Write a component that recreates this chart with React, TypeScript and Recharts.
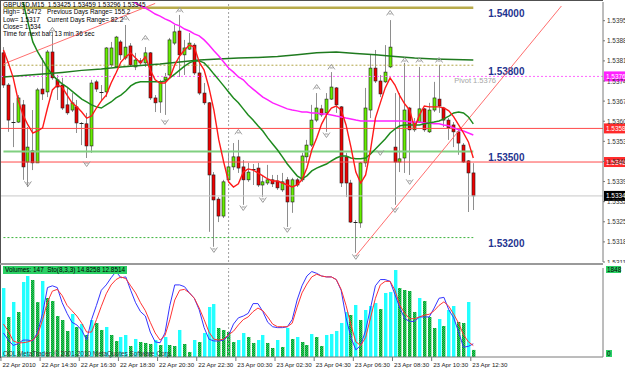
import React from "react";
import { ComposedChart, Bar, Line, XAxis, YAxis, ReferenceLine } from "recharts";

const FONT = "'Liberation Sans', Arial, sans-serif";

// GBPUSD M15, 22 Apr 12:30 .. 23 Apr 12:30
const opens = [
  1.53843, 1.53731, 1.53602, 1.53602, 1.53662, 1.53463, 1.53502, 1.5346, 1.53717, 1.53707,
  1.53846, 1.53749, 1.53731, 1.53662, 1.53644, 1.53655, 1.53599, 1.53596, 1.53519, 1.53742,
  1.53703, 1.53707, 1.53801, 1.53794, 1.53881, 1.53825, 1.53867, 1.53794, 1.53815, 1.53808,
  1.53843, 1.53686, 1.53672, 1.53749, 1.53766, 1.53877, 1.53919, 1.53836, 1.53856, 1.5387,
  1.53773, 1.53703, 1.53669, 1.53418, 1.53334, 1.53275, 1.53401, 1.53446, 1.53481, 1.53446,
  1.53401, 1.53435, 1.53442, 1.53383, 1.5339, 1.53401, 1.53397, 1.53366, 1.53401, 1.53324,
  1.53401, 1.53401, 1.53481, 1.53522, 1.53609, 1.53648, 1.53634, 1.53682, 1.53721, 1.53655,
  1.53481, 1.5339, 1.53254, 1.53251, 1.5346, 1.53644, 1.5379, 1.53745, 1.53742, 1.53794,
  1.53515, 1.53463, 1.53477, 1.53651, 1.53575, 1.53602, 1.53648, 1.53568, 1.53644, 1.53682,
  1.53651, 1.53609, 1.53592, 1.53568, 1.53522, 1.53467, 1.53425,
];
const highs = [
  1.53863, 1.53738, 1.53669, 1.53696, 1.53679, 1.53585, 1.53644, 1.53721, 1.53825, 1.53853,
  1.53916, 1.53766, 1.53756, 1.53724, 1.53703, 1.53679, 1.53602, 1.53634, 1.53749, 1.53749,
  1.53731, 1.53863, 1.53881, 1.53902, 1.53888, 1.5394, 1.53877, 1.53843, 1.53825, 1.53863,
  1.53846, 1.53696, 1.53749, 1.53773, 1.53895, 1.5394, 1.53975, 1.53888, 1.53912, 1.53877,
  1.53808, 1.53738, 1.53672, 1.53428, 1.53341, 1.53401, 1.53495, 1.53529, 1.5354, 1.5347,
  1.5346, 1.53456, 1.5346, 1.53418, 1.53453, 1.53418, 1.53418, 1.53425, 1.53411, 1.53408,
  1.53408, 1.53495, 1.5354, 1.53662, 1.53703, 1.53662, 1.53703, 1.53776, 1.53724, 1.53658,
  1.53495, 1.53401, 1.53261, 1.53463, 1.53721, 1.53836, 1.53853, 1.53766, 1.5387, 1.53957,
  1.53703, 1.53703, 1.53808, 1.53655, 1.53616, 1.53794, 1.53651, 1.53669, 1.53742, 1.53801,
  1.53655, 1.53616, 1.53602, 1.53575, 1.53529, 1.5347, 1.53459,
];
const lows = [
  1.53721, 1.53568, 1.53515, 1.53599, 1.53401, 1.53376, 1.53435, 1.5346, 1.53679, 1.53689,
  1.53749, 1.53679, 1.53644, 1.53627, 1.53637, 1.53564, 1.53522, 1.53477, 1.53495, 1.53707,
  1.53679, 1.53689, 1.53794, 1.5379, 1.53818, 1.53818, 1.53794, 1.53783, 1.53801, 1.53794,
  1.53679, 1.53637, 1.53634, 1.53627, 1.53759, 1.5387, 1.53759, 1.53766, 1.53853, 1.53766,
  1.53696, 1.53662, 1.5322, 1.53168, 1.53254, 1.53268, 1.53394, 1.53435, 1.53425, 1.53314,
  1.53394, 1.53383, 1.53376, 1.53341, 1.53383, 1.53376, 1.53366, 1.53359, 1.53237, 1.53286,
  1.53376, 1.53394, 1.5346, 1.53515, 1.53602, 1.5362, 1.53568, 1.53679, 1.53634, 1.53376,
  1.53341, 1.53251, 1.53147, 1.53234, 1.53446, 1.53616, 1.53738, 1.53689, 1.53738, 1.5379,
  1.53314, 1.53428, 1.53425, 1.53418, 1.53568, 1.53599, 1.53568, 1.53564, 1.53637, 1.53634,
  1.53585, 1.5354, 1.53515, 1.53488, 1.5346, 1.53289, 1.53296,
];
const closes = [
  1.53731, 1.53609, 1.536, 1.53686, 1.53446, 1.53515, 1.5346, 1.53714, 1.537, 1.53846,
  1.53756, 1.53724, 1.53651, 1.53634, 1.53669, 1.53599, 1.53596, 1.53519, 1.53738, 1.53717,
  1.53707, 1.5386, 1.5386, 1.53898, 1.53836, 1.53863, 1.53801, 1.53818, 1.53808, 1.53843,
  1.53686, 1.53669, 1.53742, 1.53759, 1.53888, 1.53916, 1.53836, 1.5386, 1.53877, 1.53773,
  1.53703, 1.53669, 1.53418, 1.53331, 1.53275, 1.53394, 1.53446, 1.53481, 1.53442, 1.53401,
  1.53428, 1.53439, 1.53383, 1.53394, 1.53401, 1.53387, 1.53373, 1.53394, 1.53324, 1.53401,
  1.53383, 1.53484, 1.53522, 1.53609, 1.53651, 1.53627, 1.53682, 1.53724, 1.53662, 1.5339,
  1.5339, 1.53254, 1.53251, 1.5346, 1.53651, 1.5379, 1.53745, 1.537, 1.53776, 1.53863,
  1.53463, 1.53474, 1.53644, 1.53575, 1.53599, 1.53648, 1.53575, 1.53644, 1.53686, 1.53658,
  1.53609, 1.53582, 1.53568, 1.53529, 1.53463, 1.53425, 1.53345,
];

// moving averages
const maFast = [
  1.53853, 1.53808, 1.53756, 1.53679, 1.53627, 1.53592, 1.53564, 1.53571, 1.53582, 1.53651,
  1.53714, 1.53731, 1.53724, 1.53696, 1.53669, 1.53655, 1.53637, 1.53616, 1.53623, 1.53651,
  1.53676, 1.53696, 1.53738, 1.53773, 1.53811, 1.53829, 1.53843, 1.53825, 1.53808, 1.53829,
  1.53783, 1.53749, 1.53738, 1.53738, 1.53756, 1.53801, 1.53832, 1.53853, 1.5387, 1.53863,
  1.53811, 1.53783, 1.53721, 1.53644, 1.5354, 1.53463, 1.53394, 1.53376, 1.53387, 1.53428,
  1.53439, 1.53435, 1.53425, 1.53415, 1.53404, 1.53397, 1.53397, 1.5339, 1.53383, 1.53376,
  1.53383, 1.53401, 1.53442, 1.53505, 1.53547, 1.53595, 1.53627, 1.53651, 1.53658, 1.53644,
  1.53592, 1.53515, 1.53428, 1.5339, 1.53418, 1.53505, 1.53616, 1.53669, 1.53721, 1.53756,
  1.53731, 1.53693, 1.53665, 1.53644, 1.53582, 1.53627, 1.53658, 1.53655, 1.53655, 1.53655,
  1.53651, 1.53641, 1.5362, 1.53592, 1.53564, 1.53533, 1.53477,
];
const maMid = [
  null, null, null, 1.54097, 1.5402, 1.5395, 1.53881, 1.53846, 1.53818, 1.5379,
  1.53766, 1.53749, 1.53735, 1.53724, 1.5371, 1.53696, 1.53682, 1.53672, 1.53662, 1.53655,
  1.53651, 1.53662, 1.53672, 1.53686, 1.53696, 1.5371, 1.53728, 1.53738, 1.53742, 1.53742,
  1.53742, 1.53742, 1.53742, 1.53745, 1.53756, 1.53769, 1.53783, 1.53797, 1.53808, 1.53815,
  1.53815, 1.53808, 1.5379, 1.53769, 1.53749, 1.53728, 1.53707, 1.53686, 1.53669, 1.53648,
  1.53627, 1.53609, 1.53589, 1.53571, 1.53547, 1.53526, 1.53505, 1.53481, 1.53456, 1.53435,
  1.53415, 1.53404, 1.53415, 1.53432, 1.53442, 1.53449, 1.53456, 1.53467, 1.53477, 1.53484,
  1.53484, 1.53477, 1.53474, 1.53474, 1.53477, 1.53491, 1.53508, 1.53526, 1.53543, 1.53564,
  1.53578, 1.53589, 1.53592, 1.53592, 1.53592, 1.53592, 1.53596, 1.53599, 1.53602, 1.53606,
  1.53613, 1.53623, 1.53634, 1.53637, 1.53634, 1.5362, 1.53596,
];
const maPink = [
  null, null, null, null, null, null, null, null, null, null,
  null, null, null, null, null, null, null, null, null, null,
  null, null, null, null, null, 1.54037, 1.54027, 1.54017, 1.54006, 1.53999,
  1.53989, 1.53978, 1.53971, 1.53961, 1.53954, 1.53943, 1.53937, 1.53926, 1.53919, 1.53909,
  1.53902, 1.53888, 1.5387, 1.5385, 1.53832, 1.53811, 1.5379, 1.53776, 1.53759, 1.53749,
  1.53731, 1.53717, 1.53703, 1.53689, 1.53679, 1.53669, 1.53662, 1.53655, 1.53648, 1.53644,
  1.53641, 1.53637, 1.53637, 1.53634, 1.53634, 1.5363, 1.5363, 1.53627, 1.53623, 1.5362,
  1.53616, 1.53613, 1.53609, 1.53606, 1.53606, 1.53606, 1.53606, 1.53606, 1.53606, 1.53606,
  1.53606, 1.53606, 1.53606, 1.53602, 1.53602, 1.53602, 1.53599, 1.53599, 1.53596, 1.53596,
  1.53592, 1.53589, 1.53582, 1.53575, 1.53571, 1.53564, 1.53557,
];
const maLongBars = [0, 4, 8, 12, 16, 20, 24, 28, 32, 36, 40, 44, 48, 52, 56, 60, 64, 68, 72, 76, 80, 84, 88, 92, 96];
const maLongValues = [
  1.53759, 1.53764, 1.53769, 1.53775, 1.53782, 1.53787, 1.53794, 1.53799, 1.53804, 1.53811,
  1.53818, 1.53822, 1.53825, 1.53827, 1.5383, 1.53836, 1.53843, 1.53846, 1.53841, 1.53836,
  1.5383, 1.53825, 1.53822, 1.5382, 1.53818,
];

const volumes = [
  1432, 830, 1142, 934, 1557, 1682, 1599, 1140, 1578, 1225,
  1163, 851, 768, 540, 893, 623, 685, 457, 768, 706,
  561, 623, 457, 332, 415, 457, 228, 374, 311, 291,
  270, 353, 249, 415, 249, 228, 561, 270, 104, 353,
  311, 498, 1038, 1100, 602, 561, 519, 311, 353, 498,
  415, 291, 353, 457, 291, 187, 353, 208, 602, 374,
  415, 311, 249, 477, 415, 228, 457, 477, 540, 706,
  934, 872, 1080, 768, 976, 1059, 1121, 996, 1329, 1349,
  1806, 1432, 1391, 1370, 934, 1225, 1163, 830, 602, 789,
  644, 976, 1059, 727, 706, 1142, 147,
];
const stoMain = [
  27, 19, 13, 15, 19, 19, 18, 28, 49, 78,
  80, 78, 61, 49, 39, 36, 30, 19, 42, 58,
  75, 81, 89, 96, 89, 90, 75, 61, 51, 46,
  28, 17, 16, 27, 58, 81, 81, 79, 72, 66,
  53, 33, 20, 18, 18, 19, 24, 37, 44, 46,
  49, 60, 60, 51, 39, 34, 33, 33, 34, 42,
  64, 80, 91, 96, 94, 91, 90, 90, 87, 75,
  44, 22, 8, 13, 30, 55, 80, 87, 87, 85,
  70, 55, 43, 40, 40, 45, 45, 45, 55, 66,
  67, 53, 44, 28, 11, 12, 14.8258,
];
const stoSignal = [
  37, 29, 18, 16, 16, 17, 19, 25, 42, 62,
  74, 76, 69, 58, 52, 46, 38, 28, 28, 42,
  57, 71, 81, 87, 90, 88, 80, 72, 61, 52,
  39, 27, 19, 24, 42, 64, 75, 76, 72, 66,
  55, 42, 28, 20, 19, 20, 25, 29, 36, 42,
  45, 51, 55, 52, 45, 37, 34, 34, 34, 38,
  56, 72, 82, 90, 93, 91, 90, 90, 87, 76,
  58, 36, 17, 13, 22, 44, 66, 81, 85, 85,
  75, 58, 49, 43, 43, 45, 47, 48, 52, 58,
  62, 57, 48, 38, 25, 17, 12.8514,
];

const upFractalBars = [10, 25, 29, 36, 48, 64, 67, 79, 82, 85, 89];
const upFractalPrices = [1.53923, 1.53964, 1.53895, 1.53992, 1.53568, 1.53724, 1.53794, 1.53982, 1.53818, 1.53818, 1.53818];
const downFractalBars = [5, 17, 33, 43, 49, 53, 58, 66, 72, 77, 80, 83];
const downFractalPrices = [1.53387, 1.53456, 1.53602, 1.53157, 1.53303, 1.53331, 1.53227, 1.53557, 1.53133, 1.53495, 1.53296, 1.53394];

const tickBars = [0, 8, 16, 24, 32, 40, 48, 56, 64, 72, 80, 88, 96];
const timeLabels = [
  "22 Apr 2010", "22 Apr 14:30", "22 Apr 16:30", "22 Apr 18:30", "22 Apr 20:30", "22 Apr 22:30",
  "23 Apr 00:30", "23 Apr 02:30", "23 Apr 04:30", "23 Apr 06:30", "23 Apr 08:30", "23 Apr 10:30", "23 Apr 12:30",
];
const priceTicks = [1.53115, 1.53185, 1.53255, 1.53325, 1.53395, 1.53465, 1.53535, 1.53605, 1.53675, 1.53745, 1.53815, 1.53885, 1.53955];
const PRICE_MIN = 1.53115;
const PRICE_MAX = 1.5402;
const VOL_MAX = 1848;
const SLOTS = 123; // bars plus empty space on the right

const rows = Array.from({ length: SLOTS }, (_, i) => {
  const li = maLongBars.indexOf(i);
  const ui = upFractalBars.indexOf(i);
  const di = downFractalBars.indexOf(i);
  return {
    i,
    o: opens[i] ?? null,
    h: highs[i] ?? null,
    l: lows[i] ?? null,
    c: closes[i] ?? null,
    fast: maFast[i] ?? null,
    mid: maMid[i] ?? null,
    pink: maPink[i] ?? null,
    long: li >= 0 ? maLongValues[li] : null,
    fu: ui >= 0 ? upFractalPrices[ui] : null,
    fd: di >= 0 ? downFractalPrices[di] : null,
    v: volumes[i] ?? null,
    vUp: i === 0 || (volumes[i] ?? 0) >= (volumes[i - 1] ?? 0),
    k: stoMain[i] ?? null,
    d: stoSignal[i] ?? null,
  };
});

const Candle = (props: any) => {
  const { x, y, width, height, payload } = props;
  if (!payload || payload.h == null) return <g />;
  const c = Math.round(x + width / 2);
  const top = Math.min(y, y + height);
  const span = Math.abs(height);
  const range = payload.h - payload.l;
  const toPx = (v: number) => (range > 0 ? top + ((payload.h - v) / range) * span : top);
  const yo = toPx(payload.o);
  const yc = toPx(payload.c);
  const bTop = Math.min(yo, yc);
  const bH = Math.abs(yc - yo);
  return (
    <g>
      <line x1={c + 0.5} x2={c + 0.5} y1={top} y2={top + span} stroke="#8e8e8e" />
      {bH < 1.2 ? (
        <line x1={c - 1.5} x2={c + 2.5} y1={Math.round(bTop) + 0.5} y2={Math.round(bTop) + 0.5} stroke="#222" />
      ) : (
        <rect x={c - 1} y={bTop} width={3} height={bH} fill={payload.c > payload.o ? "#66ee00" : "#ee0000"} stroke="#1c1c1c" strokeWidth={0.6} />
      )}
    </g>
  );
};

const VolBar = (props: any) => {
  const { x, y, width, height, payload } = props;
  if (!payload || payload.v == null) return <g />;
  const c = Math.round(x + width / 2);
  return <rect x={c - 1} y={y} width={3.4} height={height} fill={payload.vUp ? "#22ffff" : "url(#volGreen)"} />;
};

const arrowDot = (field: string, up: boolean) => (p: any) => {
  const key = `${field}${p.index}`;
  if (!p.payload || p.payload[field] == null || p.cy == null || isNaN(p.cy)) return <g key={key} />;
  const { cx, cy } = p;
  const d = up
    ? `M${cx - 3.5},${cy + 2.5} L${cx},${cy - 2.5} L${cx + 3.5},${cy + 2.5} M${cx - 1.5},${cy + 1} H${cx + 1.5}`
    : `M${cx - 3.5},${cy - 2.5} L${cx},${cy + 2.5} L${cx + 3.5},${cy - 2.5} M${cx - 1.5},${cy - 1} H${cx + 1.5}`;
  return <path key={key} d={d} fill="none" stroke="#9c9c9c" strokeWidth={1} />;
};

const axisTag = (text: string, bg: string) => (p: any) => {
  const vb = p.viewBox;
  if (!vb) return null;
  const x = vb.x + vb.width;
  return (
    <g>
      <rect x={x + 1} y={vb.y - 5} width={40} height={10} fill={bg} />
      <text x={x + 3} y={vb.y + 2.5} fontSize={6.4} fill="#fff" fontFamily={FONT}>{text}</text>
    </g>
  );
};

const levelTag = (text: string) => (p: any) => {
  const vb = p.viewBox;
  if (!vb) return null;
  return (
    <text x={vb.x + vb.width + 15} y={vb.y + 9.3} fontSize={10} fontWeight="bold" fill="#1f3590" fontFamily={FONT}>
      {text}
    </text>
  );
};

const pivotTag = (p: any) => {
  const vb = p.viewBox;
  if (!vb) return null;
  return (
    <text x={vb.x + vb.width - 19} y={vb.y + 6.5} fontSize={7.5} fill="#a6a6a6" fontFamily={FONT}>
      Pivot 1.5376
    </text>
  );
};

const PriceTick = (p: any) => {
  const { x, y, payload } = p;
  return (
    <g>
      <line x1={x} x2={x + 2} y1={y} y2={y} stroke="#777" />
      <text x={x + 4} y={y + 2.5} fontSize={6.4} fontFamily={FONT} fill="#333">{Number(payload.value).toFixed(5)}</text>
    </g>
  );
};

const VolTick = (p: any) => {
  const { x, y, payload } = p;
  const top = payload.value === 0 ? y - 7 : y - 2;
  return (
    <g>
      <rect x={x + 3} y={top} width={payload.value === 0 ? 6 : 15} height={7} fill="#2bd064" />
      <text x={x + 4} y={top + 6} fontSize={6.4} fontFamily={FONT} fill="#000">{payload.value}</text>
    </g>
  );
};

const TimeTick = (p: any) => {
  const { x, y, payload } = p;
  const idx = tickBars.indexOf(payload.value);
  if (idx < 0) return <g />;
  return (
    <g>
      <line x1={x - 2.5} x2={x - 2.5} y1={y} y2={y + 4} stroke="#777" />
      <text x={x - 1} y={y + 10} fontSize={6.2} fontFamily={FONT} fill="#222">{timeLabels[idx]}</text>
    </g>
  );
};

const headerLines = [
  "GBPUSD,M15  1.53425 1.53459 1.53296 1.53345",
  "High= 1.5472",
  "Low= 1.5317",
  "Close= 1.534",
  "Time for next bar: 13 min 36 sec",
];
const headerRight = ["", "Previous Days Range= 155.2", "Current Days Range= 82.2", "", ""];

const small = { fontFamily: FONT, fontSize: 6.4, lineHeight: "8px", whiteSpace: "pre" as const };

export default function App() {
  return (
    <div style={{ position: "absolute", left: 0, top: 0, width: 625, height: 370, overflow: "hidden", background: "#fff" }}>
      <svg width={0} height={0} style={{ position: "absolute" }}>
        <defs>
          <pattern id="volGreen" width={2} height={2} patternUnits="userSpaceOnUse">
            <rect width={2} height={2} fill="#22dd55" />
            <rect x={0} y={0} width={1} height={1} fill="#0b8c33" />
            <rect x={1} y={1} width={1} height={1} fill="#0b8c33" />
          </pattern>
        </defs>
      </svg>

      <div style={{ position: "absolute", left: 0, top: 0 }}>
        <ComposedChart width={640} height={263} data={rows} margin={{ top: 2, right: 0, bottom: 1, left: 1 }} barCategoryGap={0}>
          <XAxis dataKey="i" hide />
          <YAxis
            orientation="right"
            width={37}
            domain={[PRICE_MIN, PRICE_MAX]}
            allowDataOverflow
            ticks={priceTicks}
            interval={0}
            tick={PriceTick}
            tickLine={false}
            tickSize={0}
            tickMargin={0}
            axisLine={{ stroke: "#7a7a7a" }}
          />
          <ReferenceLine x={46} stroke="#a0a0a0" strokeDasharray="2 2" />
          <ReferenceLine segment={[{ x: 0, y: 1.54 }, { x: 96, y: 1.54 }]} stroke="#b8ab4c" strokeWidth={2.5} label={levelTag("1.54000")} />
          <ReferenceLine segment={[{ x: 0, y: 1.538 }, { x: 96, y: 1.538 }]} stroke="#b0a444" strokeDasharray="2 2" label={levelTag("1.53800")} />
          <ReferenceLine segment={[{ x: 0, y: 1.535 }, { x: 96, y: 1.535 }]} stroke="#80d080" strokeWidth={2} label={levelTag("1.53500")} />
          <ReferenceLine segment={[{ x: 0, y: 1.532 }, { x: 96, y: 1.532 }]} stroke="#3cb43c" strokeDasharray="2 2" label={levelTag("1.53200")} />
          <ReferenceLine y={1.53345} stroke="#c8c8c8" label={axisTag("1.53345", "#000")} />
          <ReferenceLine y={1.5358} stroke="#ff4a4a" label={axisTag("1.53580", "#ff2a2a")} />
          <ReferenceLine y={1.53463} stroke="#ff4a4a" label={axisTag("1.53463", "#ff2a2a")} />
          <ReferenceLine y={1.53761} stroke="#ff66ff" strokeDasharray="2 2" label={axisTag("1.53761", "#ff22ff")} />
          <ReferenceLine segment={[{ x: 0, y: 1.53761 }, { x: 96, y: 1.53761 }]} stroke="none" label={pivotTag} />
          <ReferenceLine segment={[{ x: 0, y: 1.53804 }, { x: 31, y: 1.54015 }]} stroke="#ff6e6e" />
          <ReferenceLine segment={[{ x: 72, y: 1.53136 }, { x: 114, y: 1.54006 }]} stroke="#ff6e6e" />
          <Bar dataKey={(d: any) => (d.h == null ? null : [d.l, d.h])} shape={Candle} barSize={4} isAnimationActive={false} />
          <Line dataKey="long" stroke="#1f7a1f" strokeWidth={1.5} dot={false} connectNulls isAnimationActive={false} />
          <Line dataKey="pink" stroke="#ff22ff" strokeWidth={1.5} dot={false} isAnimationActive={false} />
          <Line dataKey="mid" stroke="#1e8a1e" strokeWidth={1.5} dot={false} isAnimationActive={false} />
          <Line dataKey="fast" stroke="#ff1a1a" strokeWidth={1.4} dot={false} isAnimationActive={false} />
          <Line dataKey="fu" stroke="none" dot={arrowDot("fu", true)} activeDot={false} isAnimationActive={false} />
          <Line dataKey="fd" stroke="none" dot={arrowDot("fd", false)} activeDot={false} isAnimationActive={false} />
        </ComposedChart>
      </div>

      <div style={{ position: "absolute", left: 0, top: 263 }}>
        <ComposedChart width={640} height={107} data={rows} margin={{ top: 5, right: 0, bottom: 0, left: 1 }} barCategoryGap={0}>
          <XAxis
            dataKey="i"
            height={13}
            ticks={tickBars}
            interval={0}
            tick={TimeTick}
            tickLine={false}
            tickSize={0}
            tickMargin={0}
            axisLine={{ stroke: "#7a7a7a" }}
          />
          <YAxis yAxisId="v" orientation="right" width={37} domain={[0, VOL_MAX]} ticks={[0, VOL_MAX]} interval={0} tick={VolTick} tickLine={false} tickSize={0} tickMargin={0} axisLine={{ stroke: "#7a7a7a" }} />
          <YAxis yAxisId="s" hide domain={[0, 100]} />
          <ReferenceLine yAxisId="v" x={46} stroke="#a0a0a0" strokeDasharray="2 2" />
          <Bar yAxisId="v" dataKey="v" shape={VolBar} barSize={4} isAnimationActive={false} />
          <Line yAxisId="s" dataKey="k" stroke="#3434ff" strokeWidth={1} dot={false} isAnimationActive={false} />
          <Line yAxisId="s" dataKey="d" stroke="#ff3434" strokeWidth={1} dot={false} isAnimationActive={false} />
        </ComposedChart>
      </div>

      <div style={{ position: "absolute", left: 0, top: 0, width: 602, height: 262, borderTop: "1px solid #505050", borderLeft: "1px solid #505050", pointerEvents: "none" }} />
      <div style={{ position: "absolute", left: 0, top: 263, width: 603, height: 2, background: "#9a9a9a" }} />
      <div style={{ position: "absolute", left: 0, top: 265, width: 1, height: 93, background: "#505050" }} />

      {headerLines.map((t, k) => (
        <div key={k} style={{ ...small, position: "absolute", left: 3, top: 1 + k * 7.3, color: "#000" }}>
          {t}
        </div>
      ))}
      {headerRight.map((t, k) => (t ? (
        <div key={"r" + k} style={{ ...small, position: "absolute", left: 47, top: 1 + k * 7.3, color: "#000" }}>
          {t}
        </div>
      ) : null))}

      <div style={{ ...small, position: "absolute", left: 3, top: 266, height: 8, padding: "0 2px", background: "#2bd064", color: "#000" }}>
        Volumes: 147  Sto(8,3,3) 14.8258 12.8514
      </div>
      <div style={{ ...small, position: "absolute", left: 3, top: 350, color: "#333" }}>
        OOL MetaTrader, © 2001-2010 MetaQuotes Software Corp.
      </div>
    </div>
  );
}
